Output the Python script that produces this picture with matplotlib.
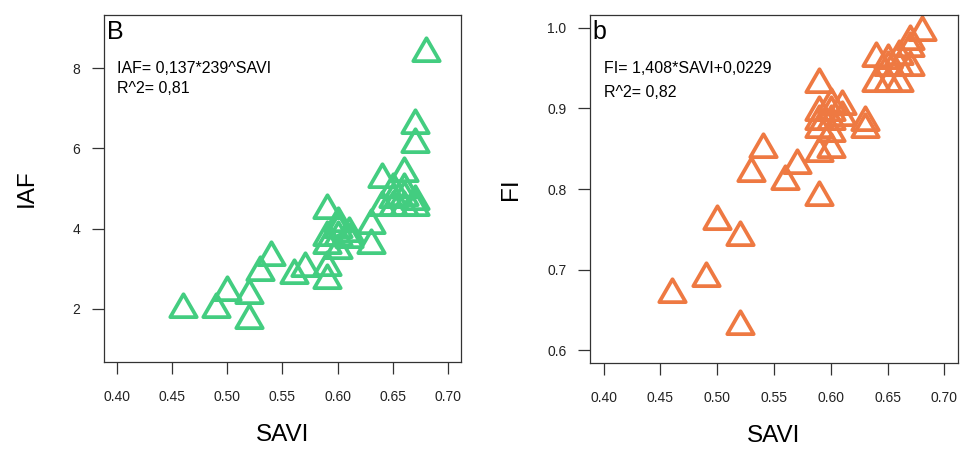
import matplotlib
matplotlib.use('Agg')
import matplotlib.pyplot as plt
from matplotlib.path import Path
from matplotlib.markers import MarkerStyle

plt.rcParams['font.family'] = ['Liberation Sans', 'DejaVu Sans']

# IAF vs SAVI (exponential fit)
savi_iaf = [0.46, 0.49, 0.50, 0.52, 0.52, 0.53, 0.54, 0.56, 0.57, 0.59,
            0.59, 0.59, 0.59, 0.59, 0.60, 0.60, 0.60, 0.60, 0.61, 0.61,
            0.63, 0.63, 0.64, 0.64, 0.65, 0.65, 0.65, 0.66, 0.66, 0.66,
            0.66, 0.67, 0.67, 0.67, 0.67, 0.68]
iaf = [2.00, 2.00, 2.43, 1.73, 2.35, 2.93, 3.30, 2.85, 3.02, 2.72,
       4.46, 3.05, 3.60, 3.80, 3.47, 3.80, 4.00, 4.15, 3.90, 3.75,
       4.10, 3.60, 5.23, 4.55, 4.55, 4.75, 5.00, 4.55, 5.00, 5.38,
       4.80, 4.55, 6.58, 6.12, 4.70, 8.37]

# FI vs SAVI (linear fit)
savi_fi = [0.46, 0.49, 0.50, 0.52, 0.52, 0.53, 0.54, 0.56, 0.57, 0.59,
           0.59, 0.59, 0.60, 0.59, 0.59, 0.60, 0.60, 0.60, 0.61, 0.63,
           0.63, 0.64, 0.64, 0.65, 0.66, 0.65, 0.66, 0.67, 0.67, 0.67,
           0.68, 0.66, 0.65, 0.61, 0.59, 0.60]
fi = [0.67, 0.69, 0.76, 0.74, 0.63, 0.82, 0.85, 0.81, 0.83, 0.79,
      0.93, 0.845, 0.85, 0.884, 0.895, 0.884, 0.895, 0.905, 0.903, 0.875,
      0.883, 0.963, 0.932, 0.932, 0.932, 0.951, 0.951, 0.951, 0.984, 0.975,
      0.995, 0.965, 0.96, 0.89, 0.875, 0.87]

x_ticks = [0.40, 0.45, 0.50, 0.55, 0.60, 0.65, 0.70]
iaf_ticks = [2, 4, 6, 8]
fi_ticks = [0.6, 0.7, 0.8, 0.9, 1.0]

green = '#43CD80'
orange = '#EE7942'

# open triangle centred on its centroid, like R's pch = 2
tri_path = Path([(0, 1.1547), (1, -0.5774), (-1, -0.5774), (0, 1.1547)],
                [Path.MOVETO, Path.LINETO, Path.LINETO, Path.CLOSEPOLY])
tri = MarkerStyle(tri_path, joinstyle='round')


def style_axes(ax):
    for sp in ax.spines.values():
        sp.set_linewidth(0.9)
        sp.set_color('#333333')
    ax.tick_params(axis='both', direction='out', length=8.5, width=0.9,
                   color='#333333', labelsize=10, labelcolor='#222222')
    ax.tick_params(axis='x', pad=12)
    ax.tick_params(axis='y', pad=8.5)
    ax.set_xlim(0.388, 0.712)
    ax.set_xticks(x_ticks)
    ax.set_xticklabels([f'{t:.2f}' for t in x_ticks])


fig = plt.figure(figsize=(9.6, 4.49), dpi=100)
ax1 = fig.add_axes([0.10833, 0.19376, 0.37188, 0.77283])
ax2 = fig.add_axes([0.61458, 0.19154, 0.38333, 0.77500])

# left panel
ax1.plot(savi_iaf, iaf, linestyle='none', marker=tri, markersize=22,
         markerfacecolor='none', markeredgecolor=green, markeredgewidth=2.7)
style_axes(ax1)
ax1.set_ylim(0.68, 9.32)
ax1.set_yticks(iaf_ticks)
ax1.set_yticklabels([str(t) for t in iaf_ticks])
ax1.set_xlabel('SAVI', fontsize=17.5)
ax1.set_ylabel('IAF', fontsize=17.5)
ax1.xaxis.set_label_coords(0.5, -0.18)
ax1.yaxis.set_label_coords(-0.185, 0.5)
ax1.text(0.008, 0.986, 'B', transform=ax1.transAxes, fontsize=18,
         ha='left', va='top')
ax1.text(0.40, 8.0, 'IAF= 0,137*239^SAVI', fontsize=11.5, ha='left', va='center')
ax1.text(0.40, 7.5, 'R^2= 0,81', fontsize=11.5, ha='left', va='center')

# right panel
ax2.plot(savi_fi, fi, linestyle='none', marker=tri, markersize=22,
         markerfacecolor='none', markeredgecolor=orange, markeredgewidth=2.7)
style_axes(ax2)
ax2.set_ylim(0.584, 1.016)
ax2.set_yticks(fi_ticks)
ax2.set_yticklabels([f'{t:.1f}' for t in fi_ticks])
ax2.set_xlabel('SAVI', fontsize=17.5)
ax2.set_ylabel('FI', fontsize=17.5)
ax2.xaxis.set_label_coords(0.5, -0.178)
ax2.yaxis.set_label_coords(-0.185, 0.5)
ax2.text(0.008, 0.986, 'b', transform=ax2.transAxes, fontsize=18,
         ha='left', va='top')
ax2.text(0.40, 0.95, 'FI= 1,408*SAVI+0,0229', fontsize=11.5, ha='left', va='center')
ax2.text(0.40, 0.92, 'R^2= 0,82', fontsize=11.5, ha='left', va='center')

fig.savefig('out.png', dpi=100)
